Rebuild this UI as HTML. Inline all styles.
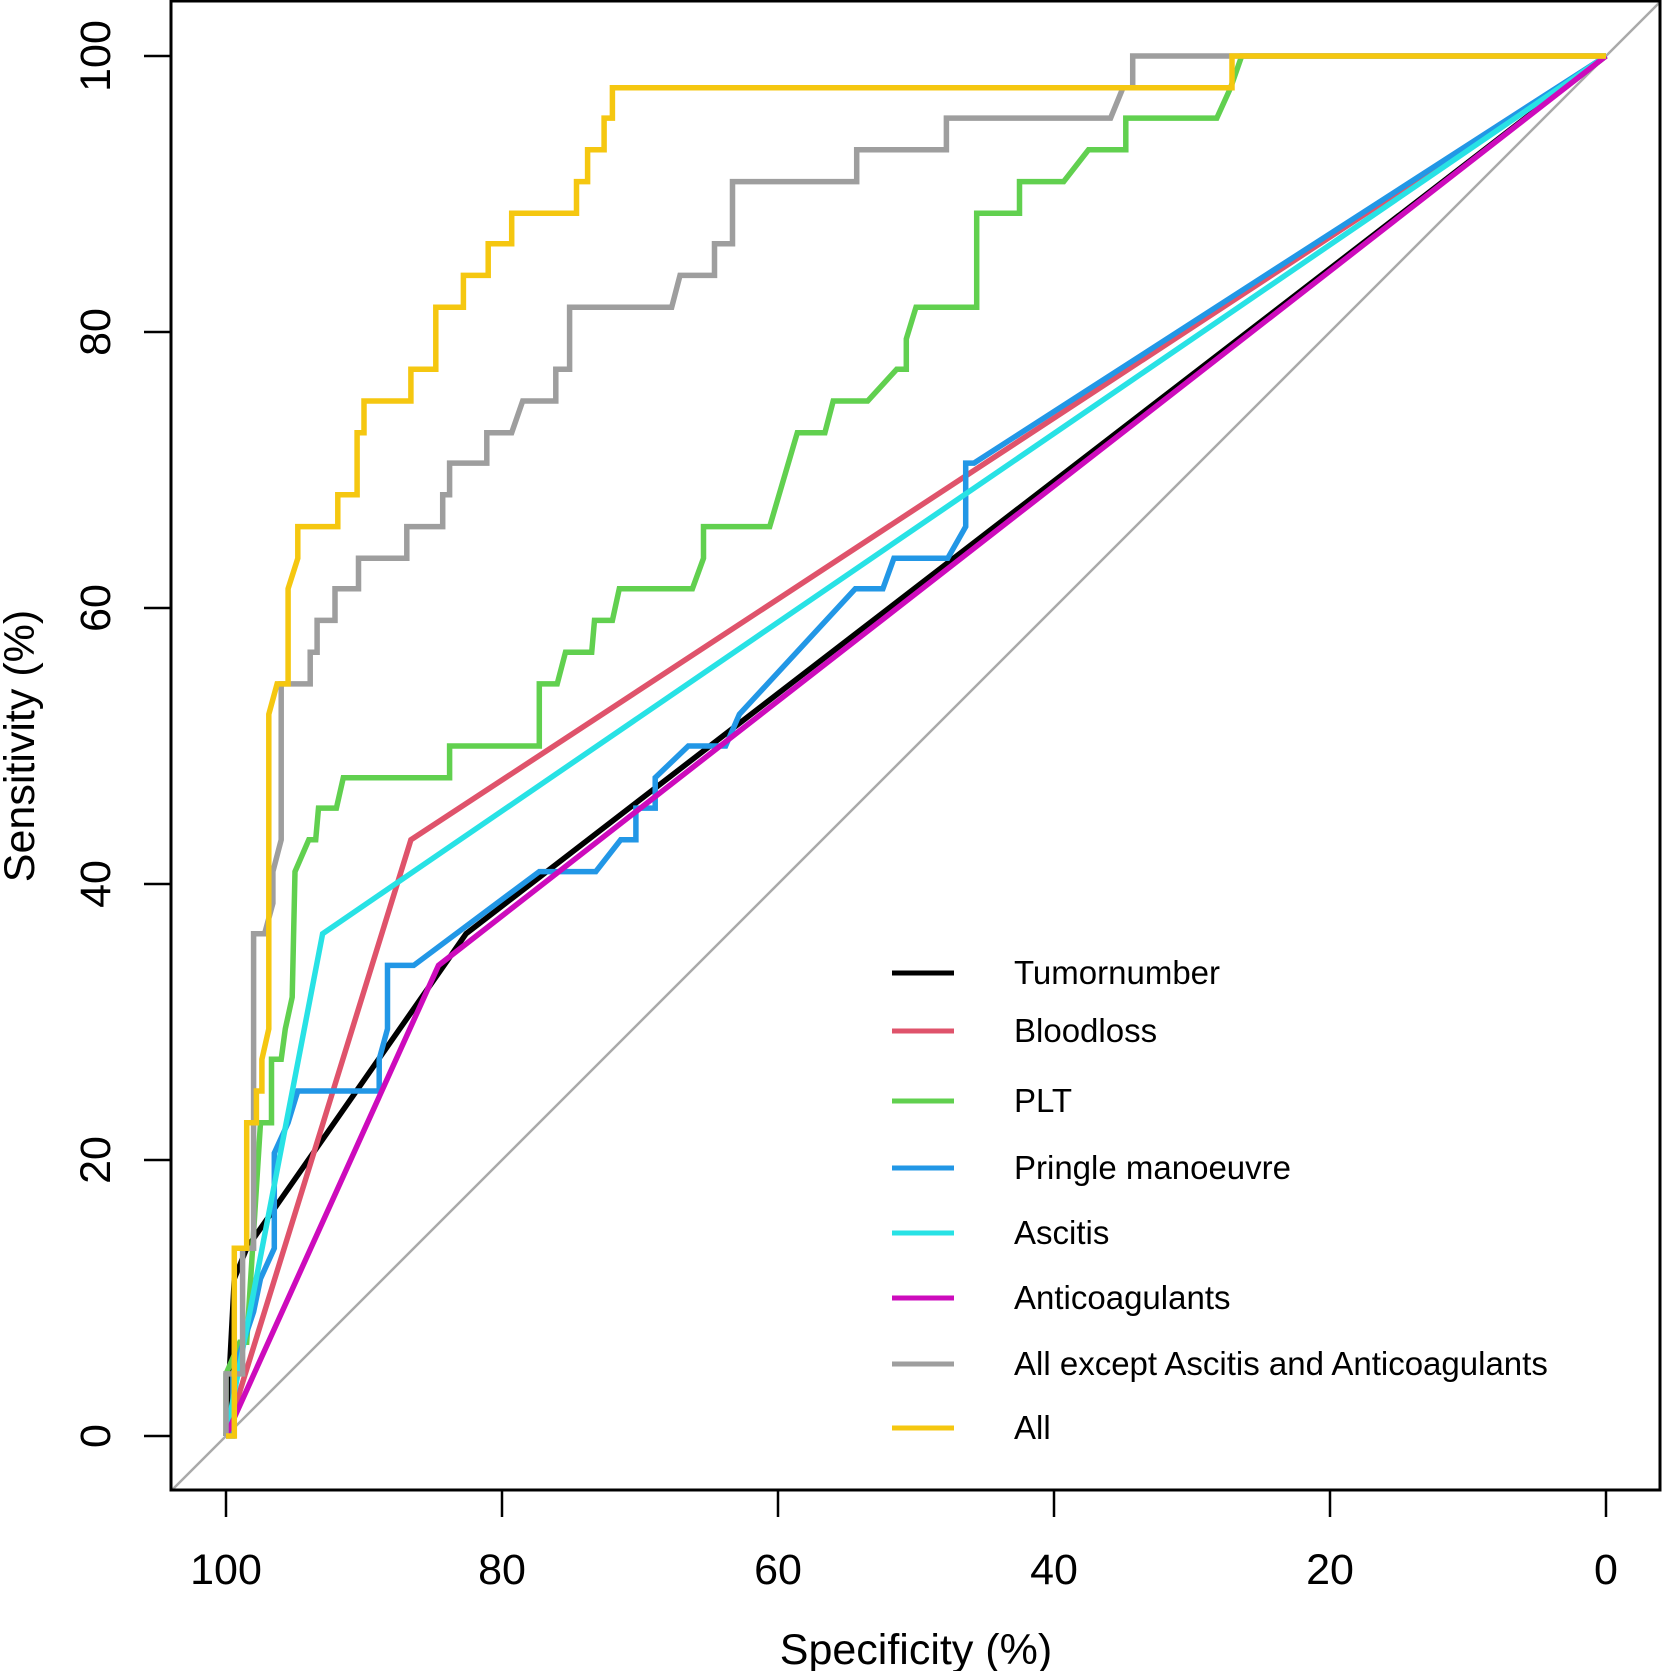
<!DOCTYPE html>
<html><head><meta charset="utf-8"><style>
html,body{margin:0;padding:0;background:#fff;}
svg{display:block;}
text{font-family:"Liberation Sans",Arial,sans-serif;fill:#000;}
</style></head><body>
<svg id="chart" width="1662" height="1671" viewBox="0 0 1662 1671" xmlns="http://www.w3.org/2000/svg">
<defs><clipPath id="plotclip"><rect x="171" y="1" width="1489" height="1489"/></clipPath></defs>
<g id="series" clip-path="url(#plotclip)"></g>
<rect x="171" y="1" width="1489" height="1489" fill="none" stroke="#000" stroke-width="3"/>
<g id="axes"></g>
<g id="legend"></g>
</svg>
<script>
const xTicks=[100,80,60,40,20,0];
const yTicks=[0,20,40,60,80,100];
const seriesNames=["Tumornumber","Bloodloss","PLT","Pringle manoeuvre","Ascitis","Anticoagulants","All except Ascitis and Anticoagulants","All"];
const seriesColors=["#000000","#df536b","#61d04f","#2297e6","#28e2e5","#cd0bbc","#9e9e9e","#f5c710"];
const tumorSpec=[100,99.4,98.5,82.6,0];
const tumorSens=[0,11.4,13.6,36.4,100];
const bloodSpec=[100,86.6,0];
const bloodSens=[0,43.2,100];
const pltSpec=[100,100,99,98.5,97.5,96.7,96.7,96,95.7,95.2,95.0,94,93.5,93.3,92,91.5,83.8,83.8,77.3,77.3,76,75.4,73.5,73.3,72,71.5,66.2,65.4,65.4,60.6,58.6,56.6,56,53.5,51.4,50.7,50.7,50,45.6,45.6,42.5,42.5,39.3,37.5,34.8,34.8,28.2,27.2,26.4,0];
const pltSens=[0,4.5,6.8,6.8,22.7,22.7,27.3,27.3,29.5,31.8,40.9,43.2,43.2,45.5,45.5,47.7,47.7,50,50,54.5,54.5,56.8,56.8,59.1,59.1,61.4,61.4,63.6,65.9,65.9,72.7,72.7,75,75,77.3,77.3,79.5,81.8,81.8,88.6,88.6,90.9,90.9,93.2,93.2,95.5,95.5,97.7,100,100];
const pringleSpec=[100,99.5,99.5,98,97.5,96.5,96.5,95.5,94.8,88.9,88.9,88.3,88.3,86.4,77.3,73.2,71.4,70.3,70.3,68.9,68.9,66.5,63.8,62.8,54.4,52.4,51.6,47.7,46.4,46.4,45.8,0];
const pringleSens=[0,0,4.5,9,11.4,13.6,20.5,22.7,25,25,27.3,29.5,34.1,34.1,40.9,40.9,43.2,43.2,45.5,45.5,47.7,50,50,52.3,61.4,61.4,63.6,63.6,65.9,70.5,70.5,100];
const ascitesSpec=[100,93.0,0];
const ascitesSens=[0,36.4,100];
const anticoagSpec=[100,84.6,0];
const anticoagSens=[0,34.1,100];
const grayS=[100,100,98.8,98.8,98,98,97.2,96.6,96.6,96,96,93.9,93.9,93.4,93.4,92.1,92.1,90.4,90.4,86.9,86.9,84.3,84.3,83.8,83.8,81.1,81.1,79.3,78.5,76.1,76.1,75.1,75.1,67.7,67.1,64.6,64.6,63.3,63.3,54.3,54.3,47.8,47.8,35.9,35,34.3,34.3,0];
const grayT=[0,4.5,4.5,13.6,13.6,36.4,36.4,38.6,40.9,43.2,54.5,54.5,56.8,56.8,59.1,59.1,61.4,61.4,63.6,63.6,65.9,65.9,68.2,68.2,70.5,70.5,72.7,72.7,75,75,77.3,77.3,81.8,81.8,84.1,84.1,86.4,86.4,90.9,90.9,93.2,93.2,95.5,95.5,97.7,97.7,100,100];
const allSpec=[100,99.4,99.4,98.5,98.5,97.8,97.8,97.4,97.4,96.9,96.9,96.3,95.5,95.5,94.8,94.8,91.9,91.9,90.5,90.5,90,90,86.6,86.6,84.8,84.8,82.8,82.8,81,81,79.3,79.3,74.6,74.6,73.8,73.8,72.6,72.6,72,72,27.1,27.1,0];
const allSens=[0,0,13.6,13.6,22.7,22.7,25,25,27.3,29.5,52.3,54.5,54.5,61.4,63.6,65.9,65.9,68.2,68.2,72.7,72.7,75,75,77.3,77.3,81.8,81.8,84.1,84.1,86.4,86.4,88.6,88.6,90.9,90.9,93.2,93.2,95.5,95.5,97.7,97.7,100,100];

const NS="http://www.w3.org/2000/svg";
const X0=226,X1=1606,Y0=1436,Y1=56;
function xs(v){return X0+(100-v)*(X1-X0)/100;}
function ys(v){return Y0-v*(Y0-Y1)/100;}
function mk(tag,attrs,parent){const e=document.createElementNS(NS,tag);for(const k in attrs)e.setAttribute(k,attrs[k]);parent.appendChild(e);return e;}
const series=document.getElementById('series');
const diag=mk('line',{x1:xs(110),y1:ys(-10),x2:xs(-10),y2:ys(110),stroke:'#aaaaaa','stroke-width':2.5},series);


const allX=[tumorSpec,bloodSpec,pltSpec,pringleSpec,ascitesSpec,anticoagSpec,grayS,allSpec];
const allY=[tumorSens,bloodSens,pltSens,pringleSens,ascitesSens,anticoagSens,grayT,allSens];
const slugs=["tumornumber","bloodloss","plt","pringle","ascitis","anticoagulants","all-except","all"];
for(let i=0;i<allX.length;i++){
  const pts=allX[i].map((s,j)=>xs(s).toFixed(1)+','+ys(allY[i][j]).toFixed(1)).join(' ');
  const p=mk('polyline',{points:pts,fill:'none',stroke:seriesColors[i],'stroke-width':5.5,'stroke-linejoin':'miter'},series);
  
  
}
const axes=document.getElementById('axes');
for(const t of xTicks){
  const l=mk('line',{x1:xs(t),y1:1490,x2:xs(t),y2:1517,stroke:'#000','stroke-width':2.5},axes);
  
  
  const tx=mk('text',{x:xs(t),y:1584,'text-anchor':'middle','font-size':43},axes);
  tx.textContent=t;
  
  
}
for(const t of yTicks){
  const l=mk('line',{x1:144,y1:ys(t),x2:171,y2:ys(t),stroke:'#000','stroke-width':2.5},axes);
  
  
  const tx=mk('text',{x:0,y:0,'text-anchor':'middle','font-size':43,transform:'translate(110,'+ys(t)+') rotate(-90)'},axes);
  tx.textContent=t;
  
  
}
const xt=mk('text',{x:916,y:1664,'text-anchor':'middle','font-size':43},axes);
xt.textContent='Specificity (%)';


const yt=mk('text',{x:0,y:0,'text-anchor':'middle','font-size':43,transform:'translate(34,746) rotate(-90)'},axes);
yt.textContent='Sensitivity (%)';


const legend=document.getElementById('legend');
const legY=[973,1031,1101,1168,1233,1298,1364,1428];
for(let i=0;i<seriesNames.length;i++){
  const l=mk('line',{x1:892,y1:legY[i],x2:954,y2:legY[i],stroke:seriesColors[i],'stroke-width':5},legend);
  
  
  const tx=mk('text',{x:1014,y:legY[i]+11,'font-size':33},legend);
  tx.textContent=seriesNames[i];
  
  
}
</script>
</body></html>
